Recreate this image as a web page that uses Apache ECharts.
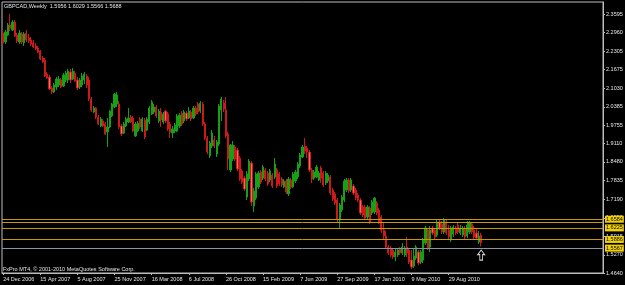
<!DOCTYPE html>
<html>
<head>
<meta charset="utf-8">
<title>GBPCAD, Weekly</title>
<script src="https://cdn.jsdelivr.net/npm/echarts@6/dist/echarts.min.js"></script>
<style>
  html, body { margin: 0; padding: 0; background: #000; }
  #chart { width: 625px; height: 285px; }
</style>
</head>
<body>
<div id="chart"></div>
<script>
// weekly bars, first bar = week of 24 Dec 2006
const firstWeek = '2006-12-24';
const weekCount = 259; // slots across the plot, incl. the empty right margin

const opens = [
  2.2938, 2.2627, 2.2869, 2.3214, 2.3042, 2.3318, 2.2869, 2.2627, 2.2904, 2.2592,
  2.2938, 2.2765, 2.2696, 2.2592, 2.2489, 2.2419, 2.2315, 2.2073, 2.2004, 2.1520,
  2.1416, 2.1036, 2.0898, 2.1071, 2.1140, 2.1313, 2.1106, 2.1313, 2.1313, 2.1589,
  2.1347, 2.1554, 2.1313, 2.1071, 2.1140, 2.1313, 2.1451, 2.1313, 2.0656, 2.0206,
  2.0344, 2.0033, 1.9722, 1.9894, 1.9791, 1.9515, 1.9687, 2.0068, 2.0379, 2.0483,
  2.0483, 1.9722, 1.9480, 1.9722, 1.9860, 2.0033, 1.9998, 1.9377, 1.9549, 1.9964,
  1.9549, 1.9929, 1.9584, 1.9860, 2.0137, 2.0206, 2.0379, 1.9894, 2.0206, 1.9860,
  2.0240, 2.0137, 1.9791, 1.9480, 1.9549, 1.9549, 1.9722, 2.0171, 1.9894, 2.0171,
  1.9998, 2.0206, 1.9998, 2.0344, 2.0483, 2.0240, 2.0483, 1.9791, 1.9307, 1.8685,
  1.9031, 1.9238, 1.8754, 1.9100, 2.0275, 2.0517, 2.0275, 1.9446, 1.8200, 1.8581,
  1.8996, 1.8892, 1.8615, 1.8165, 1.7923, 1.7267, 1.7889, 1.8442, 1.6956, 1.7232,
  1.7613, 1.8131, 1.7923, 1.8200, 1.8096, 1.7855, 1.8027, 1.7958, 1.8200, 1.8062,
  1.7889, 1.7613, 1.7820, 1.7371, 1.7855, 1.7613, 1.7820, 1.7958, 1.8339, 1.8650,
  1.9031, 1.8961, 1.8823, 1.8200, 1.7923, 1.7958, 1.7855, 1.8269, 1.8096, 1.7751,
  1.7820, 1.7958, 1.7509, 1.7371, 1.7163, 1.6471, 1.6817, 1.7163, 1.7509, 1.7855,
  1.7509, 1.7648, 1.7509, 1.7336, 1.7163, 1.6921, 1.6921, 1.6575, 1.6886, 1.6713,
  1.6748, 1.7059, 1.6817, 1.6575, 1.6126, 1.5919, 1.5538, 1.5503, 1.5434, 1.5192,
  1.5261, 1.5469, 1.5330, 1.5261, 1.5538, 1.5434, 1.5088, 1.4881, 1.5157, 1.5365,
  1.5019, 1.5088, 1.5676, 1.6126, 1.5538, 1.6194, 1.6126, 1.5953, 1.6402, 1.6333,
  1.6057, 1.6402, 1.6126, 1.5780, 1.5988, 1.6194, 1.6298, 1.6022, 1.5953, 1.6194,
  1.5919, 1.6057, 1.6333, 1.6126, 1.6022, 1.5711, 1.5956
];
const closes = [
  2.2592, 2.2973, 2.3214, 2.3110, 2.3318, 2.2835, 2.2661, 2.2938, 2.2627, 2.2904,
  2.2696, 2.2661, 2.2558, 2.2454, 2.2385, 2.2281, 2.2039, 2.1935, 2.1451, 2.1381,
  2.1002, 2.0898, 2.1140, 2.1347, 2.1347, 2.1071, 2.1485, 2.1554, 2.1623, 2.1313,
  2.1623, 2.1278, 2.1036, 2.1313, 2.1451, 2.1520, 2.1140, 2.0656, 2.0275, 2.0344,
  2.0033, 1.9791, 1.9964, 1.9722, 1.9446, 1.9687, 2.0240, 2.0483, 2.0829, 2.0794,
  1.9687, 1.9446, 1.9791, 1.9964, 1.9998, 1.9860, 1.9549, 1.9791, 1.9825, 1.9687,
  1.9964, 1.9342, 1.9964, 2.0344, 2.0552, 2.0379, 2.0068, 2.0240, 1.9929, 2.0137,
  1.9894, 1.9618, 1.9515, 1.9618, 1.9756, 2.0068, 2.0102, 1.9791, 2.0206, 1.9964,
  2.0240, 1.9964, 2.0344, 2.0137, 2.0206, 2.0517, 1.9791, 1.9307, 1.8823, 1.9134,
  1.9480, 1.9031, 1.9169, 2.0414, 2.0656, 2.0310, 1.9377, 1.8581, 1.9065, 1.9065,
  1.8581, 1.8235, 1.7889, 1.7786, 1.7544, 1.8062, 1.8511, 1.7094, 1.7474, 1.8062,
  1.8096, 1.7786, 1.8304, 1.7889, 1.7717, 1.8165, 1.7648, 1.8408, 1.7648, 1.7717,
  1.7682, 1.7820, 1.7440, 1.7889, 1.7613, 1.8062, 1.8131, 1.8408, 1.8719, 1.8996,
  1.8857, 1.8823, 1.8200, 1.7889, 1.8131, 1.8304, 1.8096, 1.7923, 1.7682, 1.8096,
  1.8027, 1.7405, 1.7198, 1.7059, 1.6506, 1.6990, 1.7267, 1.7820, 1.7855, 1.7474,
  1.7855, 1.7405, 1.7232, 1.7163, 1.6713, 1.6644, 1.6540, 1.6921, 1.6402, 1.7094,
  1.7232, 1.6713, 1.6402, 1.6126, 1.5919, 1.5538, 1.5330, 1.5261, 1.5192, 1.5365,
  1.5434, 1.5330, 1.5538, 1.5503, 1.5330, 1.5019, 1.4846, 1.5227, 1.5538, 1.4984,
  1.5365, 1.5780, 1.6194, 1.5503, 1.6126, 1.6022, 1.5884, 1.6402, 1.6194, 1.6057,
  1.6471, 1.6022, 1.5884, 1.6194, 1.6229, 1.6022, 1.6057, 1.6194, 1.6194, 1.5884,
  1.6298, 1.6367, 1.6057, 1.5884, 1.5849, 1.5919, 1.5688
];
const highs = [
  2.3042, 2.3042, 2.3283, 2.3595, 2.3387, 2.3387, 2.2938, 2.3042, 2.2973, 2.2973,
  2.3042, 2.2904, 2.2800, 2.2696, 2.2592, 2.2489, 2.2350, 2.2143, 2.2073, 2.1589,
  2.1485, 2.1106, 2.1209, 2.1416, 2.1451, 2.1381, 2.1554, 2.1623, 2.1693, 2.1693,
  2.1727, 2.1623, 2.1416, 2.1381, 2.1554, 2.1589, 2.1520, 2.1416, 2.0725, 2.0414,
  2.0379, 2.0102, 2.0033, 1.9964, 1.9860, 1.9998, 2.0275, 2.0517, 2.0863, 2.0898,
  2.0586, 1.9791, 1.9860, 2.0033, 2.0344, 2.0102, 2.0068, 1.9860, 1.9894, 2.0033,
  2.0033, 1.9998, 2.0033, 2.0414, 2.0621, 2.0483, 2.0448, 2.0310, 2.0344, 2.0206,
  2.0275, 2.0206, 1.9860, 1.9722, 1.9825, 2.0137, 2.0171, 2.0240, 2.0275, 2.0240,
  2.0379, 2.0275, 2.0414, 2.0414, 2.0552, 2.0586, 2.0552, 1.9860, 1.9377, 1.9203,
  1.9584, 1.9377, 1.9238, 2.0483, 2.0725, 2.0621, 2.0725, 1.9515, 1.9100, 1.9203,
  1.9065, 1.8961, 1.8685, 1.8235, 1.7993, 1.8165, 1.8581, 1.8511, 1.7578, 1.8131,
  1.8165, 1.8200, 1.8373, 1.8269, 1.8165, 1.8235, 1.8096, 1.8615, 1.8269, 1.8131,
  1.7958, 1.7889, 1.7889, 1.7958, 1.7923, 1.8131, 1.8200, 1.8477, 1.8788, 1.9065,
  1.9307, 1.9031, 1.8892, 1.8269, 1.8200, 1.8373, 1.8165, 1.8339, 1.8165, 1.8165,
  1.8096, 1.8027, 1.7578, 1.7440, 1.7232, 1.7059, 1.7336, 1.7889, 1.7923, 1.7923,
  1.7923, 1.7717, 1.7578, 1.7405, 1.7232, 1.6990, 1.6990, 1.6990, 1.6956, 1.7163,
  1.7267, 1.7128, 1.6886, 1.6644, 1.6367, 1.6091, 1.5607, 1.5573, 1.5503, 1.5503,
  1.5503, 1.5538, 1.5676, 1.5573, 1.5884, 1.5503, 1.5434, 1.5503, 1.5607, 1.5434,
  1.5434, 1.5849, 1.6264, 1.6194, 1.6264, 1.6264, 1.6194, 1.6471, 1.6471, 1.6436,
  1.6540, 1.6471, 1.6298, 1.6264, 1.6298, 1.6264, 1.6402, 1.6298, 1.6264, 1.6264,
  1.6436, 1.6436, 1.6367, 1.6264, 1.6194, 1.6091, 1.6029
];
const lows = [
  2.2523, 2.2558, 2.2835, 2.3007, 2.3007, 2.2800, 2.2592, 2.2558, 2.2558, 2.2489,
  2.2627, 2.2592, 2.2489, 2.2419, 2.2350, 2.2246, 2.2004, 2.1900, 2.1416, 2.1347,
  2.0967, 2.0829, 2.0863, 2.0967, 2.1071, 2.1036, 2.1071, 2.1244, 2.1209, 2.1209,
  2.1313, 2.1244, 2.0967, 2.1002, 2.1071, 2.1175, 2.1036, 2.0586, 2.0206, 2.0171,
  1.9964, 1.9756, 1.9687, 1.9687, 1.9411, 1.8996, 1.9652, 2.0033, 2.0344, 2.0379,
  1.9618, 1.9377, 1.9446, 1.9687, 1.9825, 1.9825, 1.9515, 1.9342, 1.9515, 1.9618,
  1.9515, 1.9273, 1.9549, 1.9791, 2.0102, 2.0137, 1.9998, 1.9825, 1.9687, 1.9791,
  1.9825, 1.9549, 1.9307, 1.9307, 1.9480, 1.9515, 1.9652, 1.9722, 1.9825, 1.9894,
  1.9964, 1.9894, 1.9964, 2.0068, 2.0137, 2.0171, 1.9722, 1.9238, 1.8754, 1.8615,
  1.8961, 1.8961, 1.8650, 1.9031, 1.9894, 2.0206, 1.9307, 1.8200, 1.8131, 1.8511,
  1.8511, 1.8165, 1.7820, 1.7717, 1.7474, 1.7163, 1.7820, 1.6956, 1.6748, 1.7163,
  1.7544, 1.7717, 1.7855, 1.7820, 1.7648, 1.7786, 1.7578, 1.7889, 1.7578, 1.7648,
  1.7613, 1.7578, 1.7371, 1.7302, 1.7544, 1.7578, 1.7751, 1.7889, 1.8269, 1.8615,
  1.8754, 1.8615, 1.8131, 1.7751, 1.7855, 1.7923, 1.7820, 1.7751, 1.7613, 1.7682,
  1.7751, 1.7336, 1.7128, 1.6990, 1.6402, 1.6194, 1.6748, 1.7094, 1.7440, 1.7405,
  1.7440, 1.7336, 1.7163, 1.7094, 1.6644, 1.6575, 1.6471, 1.6506, 1.6333, 1.6644,
  1.6679, 1.6644, 1.6333, 1.6022, 1.5780, 1.5469, 1.5261, 1.5192, 1.5123, 1.5053,
  1.5192, 1.5261, 1.5261, 1.5192, 1.5192, 1.4950, 1.4777, 1.4811, 1.5088, 1.4915,
  1.4950, 1.4984, 1.5607, 1.5434, 1.5365, 1.5953, 1.5815, 1.5884, 1.6126, 1.5988,
  1.5988, 1.5953, 1.5815, 1.5711, 1.5884, 1.5953, 1.5988, 1.5953, 1.5884, 1.5815,
  1.5849, 1.5988, 1.5988, 1.5815, 1.5780, 1.5642, 1.5566
];

// price scale labels as printed by the terminal
const priceTicks = [2.3595, 2.2960, 2.2305, 2.1675, 2.1030, 2.0385, 1.9755, 1.9110,
  1.8480, 1.7835, 1.7190, 1.6550, 1.5915, 1.5270, 1.4640];

// horizontal lines drawn on the chart and the price tags shown at the right
const lineLevels = [1.6471, 1.6365, 1.6185, 1.5770];
const lineTags = ['1.6584', '', '1.6225', '1.5886'];
const bidLevel = 1.5550;
const bidTag = '1.5567';
const arrowPrice = 1.526;

const header = 'GBPCAD,Weekly  1.5956 1.6029 1.5566 1.5688';
const footer = 'FxPro MT4, \u00a9 2001-2010 MetaQuotes Software Corp.';

const MONTHS = ['Jan','Feb','Mar','Apr','May','Jun','Jul','Aug','Sep','Oct','Nov','Dec'];
const weeks = [];
const t0 = Date.parse(firstWeek + 'T00:00:00Z');
for (let i = 0; i < weekCount; i++) {
  const d = new Date(t0 + i * 7 * 86400000);
  weeks.push(d.getUTCDate() + ' ' + MONTHS[d.getUTCMonth()] + ' ' + d.getUTCFullYear());
}

const candles = opens.map((o, i) => [o, closes[i], lows[i], highs[i]]);
const lastIdx = candles.length - 1;
const showDate = (idx) => idx % 16 === 0 && idx <= lastIdx;

const FONT = 'Liberation Sans';
const TXT = '#e6e6e6';
const FRAME = '#bdbdbd';

function tagLabel(text, bg) {
  return {
    show: text !== '',
    formatter: text,
    position: 'end',
    distance: 2,
    color: '#000',
    backgroundColor: bg,
    fontFamily: FONT,
    fontSize: 5.5,
    padding: [1, 1, 0, 1],
  };
}

const markLines = lineLevels.map((v, i) => ({
  yAxis: v,
  lineStyle: { color: '#c79a00', width: 1, type: 'solid' },
  label: tagLabel(lineTags[i], '#f2d200'),
}));
markLines.push({
  yAxis: bidLevel,
  lineStyle: { color: '#8797a8', width: 1, type: 'solid' },
  label: tagLabel(bidTag, '#f2d200'),
});

const chart = echarts.init(document.getElementById('chart'), null, { renderer: 'canvas' });
const option = {
  backgroundColor: '#000',
  animation: false,
  textStyle: { fontFamily: FONT },
  graphic: [
    { type: 'text', left: 4, top: 3, style: { text: header, fill: TXT, font: '5.5px ' + FONT } },
    { type: 'text', left: 3, top: 266, style: { text: footer, fill: TXT, font: '5.5px ' + FONT } },
  ],
  grid: {
    left: 2, right: 22, top: 2, bottom: 12,
    show: true, borderColor: FRAME, borderWidth: 1, backgroundColor: 'transparent',
    containLabel: false, outerBoundsMode: 'none',
  },
  xAxis: {
    type: 'category',
    data: weeks,
    boundaryGap: true,
    axisLine: { show: true, lineStyle: { color: FRAME } },
    axisTick: { show: true, alignWithLabel: true, interval: (idx) => showDate(idx), length: 2, lineStyle: { color: FRAME } },
    axisLabel: {
      interval: (idx) => showDate(idx),
      align: 'left',
      margin: 3,
      color: TXT,
      fontFamily: FONT,
      fontSize: 5.5,
    },
    splitLine: { show: false },
  },
  yAxis: {
    type: 'value',
    position: 'right',
    min: 1.464,
    max: 2.401,
    scale: true,
    axisLine: { show: true, lineStyle: { color: FRAME } },
    axisTick: { show: true, length: 2, customValues: priceTicks, lineStyle: { color: FRAME } },
    axisLabel: {
      customValues: priceTicks,
      formatter: (v) => v.toFixed(4),
      margin: 3,
      color: TXT,
      fontFamily: FONT,
      fontSize: 5.5,
    },
    splitLine: { show: false },
  },
  series: [{
    type: 'candlestick',
    data: candles,
    barWidth: 1.7,
    itemStyle: {
      color: '#16a016',
      color0: '#f26a6a',
      borderColor: '#16a016',
      borderColor0: '#cc1a1a',
      borderWidth: 1,
    },
    markLine: {
      silent: true,
      symbol: ['none', 'none'],
      animation: false,
      data: markLines,
    },
    markPoint: {
      silent: true,
      data: [{
        coord: [weeks[lastIdx], arrowPrice],
        symbol: 'path://M5,0 L10,5 L7,5 L7,11 L3,11 L3,5 L0,5 Z',
        symbolSize: [7, 10],
        itemStyle: { color: '#000', borderColor: '#d6d6d6', borderWidth: 1 },
        label: { show: false },
      }],
    },
  }],
};
option && chart.setOption(option);
</script>
</body>
</html>
